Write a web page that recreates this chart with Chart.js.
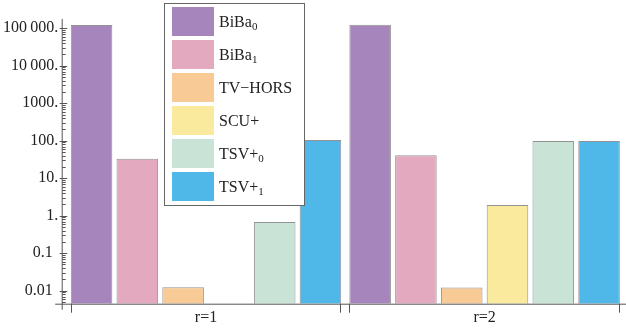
<!DOCTYPE html>
<html>
<head>
<meta charset="utf-8">
<script src="https://cdn.jsdelivr.net/npm/chart.js@4/dist/chart.umd.min.js"></script>
<style>
	html, body { margin: 0; padding: 0; background: #fff; }
	#wrap { width: 626px; height: 328px; position: relative; }
</style>
</head>
<body>
<div id="wrap"><canvas id="grafico"></canvas></div>
<script>
// dados
const categorias = ["r=1", "r=2"]
const nomes = ["BiBa", "BiBa", "TV\u2212HORS", "SCU+", "TSV+", "TSV+"]
const subscritos = ["0", "1", "", "", "0", "1"]
const biba0 = [122000, 124000]
const biba1 = [33, 41]
const tvhors = [0.0123, 0.0122]
const scu = [null, 1.94]
const tsv0 = [0.68, 99]
const tsv1 = [105, 99]
const cores = ["#a684bc", "#e3aabf", "#f7ca96", "#f9ea9d", "#c9e4d6", "#4fb8e8"]
const valoresTicks = [0.01, 0.1, 1, 10, 100, 1000, 10000, 100000]
const rotulosTicks = ["0.01\u2006\u2006", "0.1\u2006\u2006", "1.", "10.", "100.", "1000.", "10\u2009000.", "100\u2009000."]

const FONTE = "'Liberation Serif', 'Times New Roman', serif"
const COR_EIXO = "#555"

var series = [biba0, biba1, tvhors, scu, tsv0, tsv1]

var dataSet = []
for (let i = 0; i < series.length; i++) {
	dataSet.push({
		label: nomes[i] + subscritos[i],
		data: series[i],
		backgroundColor: cores[i],
		borderColor: "rgba(110,110,110,0.75)",
		borderWidth: 1,
		categoryPercentage: 0.986,
		barPercentage: 0.908,
	})
}

// eixos no estilo do Mathematica
const eixos = {
	id: "eixos",
	afterDatasetsDraw(chart) {
		const ctx = chart.ctx
		const area = chart.chartArea
		const y = chart.scales.y
		const ax = area.left - 4.5
		const baixo = area.bottom
		ctx.save()
		ctx.strokeStyle = COR_EIXO
		ctx.lineWidth = 1
		ctx.beginPath()
		ctx.moveTo(ax - 7, baixo + 0.5)
		ctx.lineTo(chart.width, baixo + 0.5)
		ctx.moveTo(ax, area.top - 1)
		ctx.lineTo(ax, baixo + 6)
		ctx.stroke()

		// ticks do eixo y (maiores e menores)
		ctx.beginPath()
		for (let e = -3; e <= 5; e++) {
			for (let m = 1; m <= 9; m++) {
				let v = m * Math.pow(10, e)
				if (v < y.min || v > y.max) continue
				let py = Math.round(y.getPixelForValue(v)) + 0.5
				if (m == 1) {
					ctx.moveTo(ax - 2.5, py)
					ctx.lineTo(ax + 5, py)
				} else {
					ctx.moveTo(ax, py)
					ctx.lineTo(ax + 3.5, py)
				}
			}
		}
		ctx.stroke()

		// ticks do eixo x nas bordas de cada grupo
		const primeiro = chart.getDatasetMeta(0).data
		const ultimo = chart.getDatasetMeta(series.length - 1).data
		ctx.beginPath()
		for (let i = 0; i < categorias.length; i++) {
			let x0 = Math.round(primeiro[i].x - primeiro[i].width / 2) + 0.5
			let x1 = Math.round(ultimo[i].x + ultimo[i].width / 2) - 0.5
			ctx.moveTo(x0, baixo)
			ctx.lineTo(x0, baixo + 9)
			ctx.moveTo(x1, baixo)
			ctx.lineTo(x1, baixo + 9)
		}
		ctx.stroke()
		ctx.restore()
	},
}

// legenda com subscritos
const legenda = {
	id: "legenda",
	afterDraw(chart) {
		const ctx = chart.ctx
		const bx = 164.5
		const by = 3.5
		ctx.save()
		ctx.fillStyle = "#fff"
		ctx.fillRect(bx, by, 140, 202)
		ctx.strokeStyle = "#666"
		ctx.lineWidth = 1
		ctx.strokeRect(bx, by, 140, 202)
		chart.data.datasets.forEach((ds, i) => {
			let top = 7 + 33 * i
			ctx.fillStyle = ds.backgroundColor
			ctx.fillRect(172, top, 42, 29)
			ctx.fillStyle = "#222"
			ctx.textBaseline = "alphabetic"
			ctx.textAlign = "left"
			ctx.font = "16px " + FONTE
			let base = top + 20
			ctx.fillText(nomes[i], 219, base)
			if (subscritos[i]) {
				let w = ctx.measureText(nomes[i]).width
				ctx.font = "11px " + FONTE
				ctx.fillText(subscritos[i], 219 + w, base + 3)
			}
		})
		ctx.restore()
	},
}

const config = {
	type: "bar",
	data: {
		labels: categorias,
		datasets: dataSet,
	},
	options: {
		responsive: true,
		maintainAspectRatio: false,
		animation: false,
		layout: {
			padding: { top: 20, right: 2.1, left: 0, bottom: 0 },
		},
		plugins: {
			legend: { display: false },
			tooltip: { enabled: false },
		},
		scales: {
			x: {
				grid: { display: false, drawTicks: false },
				border: { display: false },
				ticks: {
					padding: 4,
					color: "#222",
					font: { family: FONTE, size: 16 },
				},
				afterFit(s) {
					s.height = 24.3
				},
			},
			y: {
				type: "logarithmic",
				min: 0.0045,
				max: 166000,
				grid: { display: false, drawTicks: false },
				border: { display: false },
				afterBuildTicks(s) {
					s.ticks = valoresTicks.map((v) => ({ value: v }))
				},
				ticks: {
					autoSkip: false,
					padding: 8.5,
					color: "#222",
					font: { family: FONTE, size: 16 },
					callback: (v, i) => rotulosTicks[i],
				},
				afterFit(s) {
					s.width = 66.7
				},
			},
		},
	},
	plugins: [eixos, legenda],
}

var graficoBarra = new Chart(document.getElementById("grafico"), config)
</script>
</body>
</html>
